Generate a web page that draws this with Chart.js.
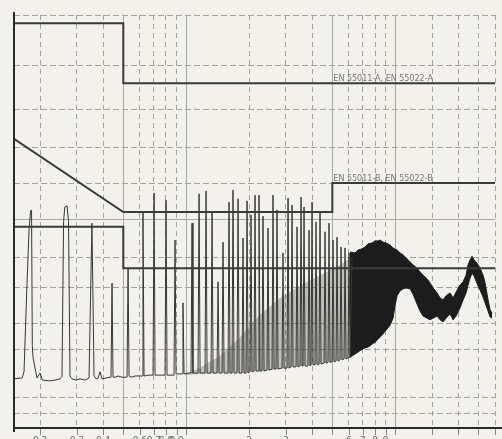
<!DOCTYPE html>
<html lang="de">
<head>
<meta charset="utf-8">
<title>Störspannung 0,15 – 30 MHz</title>
<script src="https://cdn.jsdelivr.net/npm/chart.js@4.4.1/dist/chart.umd.min.js"></script>
<style>
  html, body { margin: 0; padding: 0; background: #f3f1eb; }
  canvas { display: block; }
</style>
</head>
<body>
<canvas id="grafico" width="502" height="439"></canvas>
<script>
// Frequenz in MHz (log), Pegel in Einheiten des Papierrasters (0 = Unterkante, 100 = Oberkante)
const xGridDashed = [0.2, 0.3, 0.4, 0.6, 0.7, 0.8, 0.9, 2, 3, 4, 6, 7, 8, 9, 15, 20, 25, 30];
const xGridSolid = [0.5, 1, 5, 10];
const xTickLabels = ["0.2", "0.3", "0.4", "0.6", "0.7", "0.8", "0.9", "2", "3", "6", "7", "8", "9"];
const yGridDashed = [100, 87.7, 77.0, 67.8, 59.3, 41.4, 33.9, 25.4, 19.1, 7.3, 3.4];
const yGridSolid = [50.6];

const limitA = [[0.15, 98], [0.5, 98], [0.5, 83.5], [30, 83.5]];
const limitB = [[0.15, 70], [0.5, 52.3], [5, 52.3], [5, 59.3], [30, 59.3]];
const limitAvg = [[0.15, 48.7], [0.5, 48.7], [0.5, 38.7], [30, 38.7]];
const limitLabels = ["EN 55011-A, EN 55022-A", "EN 55011-B, EN 55022-B"];

// Messkurve bis 1 MHz
const traceLow = [
  [0.150, 11.9], [0.164, 12.1], [0.1675, 13.6], [0.1731, 35.0], [0.177, 47.9], [0.180, 52.5], [0.182, 52.8],
  [0.1835, 20.0], [0.185, 17.0], [0.1933, 12.1], [0.1998, 13.3], [0.205, 11.6], [0.223, 11.4], [0.2357, 11.6],
  [0.249, 11.9], [0.2545, 12.5], [0.259, 50.0], [0.2625, 53.5], [0.269, 53.8], [0.2735, 50.0], [0.278, 12.6],
  [0.2842, 11.9], [0.297, 11.6], [0.3104, 11.9], [0.328, 11.6], [0.3428, 12.1], [0.354, 49.6], [0.3622, 12.6],
  [0.3703, 11.9], [0.3785, 12.1], [0.3869, 13.6], [0.3955, 11.9], [0.4134, 12.1], [0.432, 12.3], [0.4368, 12.3],
  [0.4416, 35.1], [0.4465, 12.3], [0.4565, 12.3], [0.4718, 12.6], [0.4931, 12.3], [0.5153, 12.3], [0.521, 12.3],
  [0.527, 38.7], [0.5326, 12.6], [0.5444, 12.3], [0.569, 12.6], [0.5881, 12.6], [0.6146, 12.6], [0.621, 52.3],
  [0.6283, 12.6], [0.6638, 12.8], [0.6938, 12.8], [0.702, 56.9], [0.7092, 12.8], [0.7494, 12.8], [0.7919, 12.8],
  [0.8006, 55.2], [0.8095, 12.8], [0.8744, 12.8], [0.884, 45.5], [0.8939, 13.1], [0.955, 13.1], [0.965, 30.3],
  [0.9763, 13.1],
];

// Messkurve 1 – 6,2 MHz (Oberwellenkamm)
const traceMid = [
  [1.0203, 13.3], [1.0545, 13.3], [1.066, 49.6], [1.077, 13.3],
  [1.139, 13.3], [1.152, 56.7], [1.165, 13.3],
  [1.230, 13.3], [1.244, 57.4], [1.258, 13.3],
  [1.314, 13.3], [1.329, 52.3], [1.344, 13.3],
  [1.404, 13.3], [1.420, 35.4], [1.436, 13.3],
  [1.4835, 13.3], [1.500, 45.0], [1.517, 13.3],
  [1.585, 13.3], [1.602, 54.7], [1.620, 13.3],
  [1.656, 13.3], [1.674, 57.6], [1.693, 13.3],
  [1.750, 13.3], [1.770, 55.5], [1.790, 13.3],
  [1.849, 13.3], [1.869, 46.0], [1.890, 13.3],
  [1.933, 13.3], [1.954, 55.0], [1.976, 13.3],
  [2.019, 13.6], [2.042, 51.6], [2.064, 13.6],
  [2.110, 13.8], [2.134, 56.4], [2.157, 13.8],
  [2.205, 13.8], [2.229, 56.4], [2.254, 13.8],
  [2.304, 13.8], [2.330, 51.3], [2.356, 13.8],
  [2.435, 14.0], [2.462, 48.4], [2.489, 14.0],
  [2.574, 14.3], [2.601, 56.4], [2.631, 14.3],
  [2.689, 14.3], [2.718, 52.8], [2.749, 14.3],
  [2.873, 14.5], [2.904, 42.4], [2.937, 14.5],
  [3.036, 14.5], [3.070, 55.7], [3.104, 14.5],
  [3.172, 14.8], [3.208, 54.0], [3.243, 14.8],
  [3.352, 14.8], [3.389, 48.7], [3.426, 14.8],
  [3.503, 15.0], [3.542, 55.9], [3.581, 15.0],
  [3.621, 15.0], [3.661, 53.5], [3.702, 15.0],
  [3.825, 15.0], [3.868, 47.9], [3.911, 15.0],
  [3.954, 15.3], [3.998, 54.7], [4.042, 15.3],
  [4.132, 15.3], [4.178, 49.9], [4.224, 15.3],
  [4.318, 15.5], [4.366, 52.3], [4.414, 15.5],
  [4.563, 15.7], [4.614, 47.5], [4.665, 15.7],
  [4.768, 15.9], [4.821, 49.6], [4.875, 15.9],
  [4.983, 16.0], [5.038, 45.5], [5.094, 16.0],
  [5.208, 16.2], [5.265, 46.2], [5.323, 16.2],
  [5.442, 16.5], [5.503, 43.8], [5.563, 16.5],
  [5.687, 16.7], [5.750, 43.6], [5.814, 16.7],
  [5.943, 17.0], [6.009, 42.4], [6.075, 17.0],
  [6.211, 41.4],
];

// dichtes Band ab 6 MHz: obere und untere Hüllkurve
const humpMHz = [6.075, 6.422, 6.638, 6.862, 7.171, 7.412, 7.746, 8.006, 8.275, 8.460, 8.744, 9.038, 9.445, 9.763,
  9.980, 10.203, 10.546, 10.900, 11.267, 11.774, 12.167, 12.715, 13.141, 13.584, 14.196, 14.673, 15.17, 15.85,
  16.38, 16.93, 17.50, 18.29, 18.91, 19.54, 20.42, 21.11, 21.81, 22.30, 22.79, 23.30, 23.81, 24.35, 24.89, 25.45,
  26.31, 26.90, 27.80, 28.42, 29.06];
const humpTop = [42.6, 42.4, 43.1, 43.3, 43.8, 44.6, 44.8, 45.3, 45.3, 45.5, 45.0, 44.8, 44.3, 43.6,
  43.3, 43.1, 42.4, 41.9, 41.2, 40.2, 39.5, 38.7, 37.8, 37.0, 36.1, 35.1, 33.9, 32.7,
  31.5, 31.0, 32.0, 32.7, 31.5, 32.9, 34.6, 35.4, 37.0, 39.5, 40.7, 41.6, 40.7, 40.2, 39.5, 38.7,
  37.0, 35.1, 31.0, 28.6, 27.8];
const humpBottom = [17.2, 17.9, 18.4, 18.9, 19.4, 19.6, 20.3, 20.8, 21.5, 22.0, 22.8, 23.7, 24.9, 26.6,
  29.8, 32.0, 33.2, 33.7, 33.9, 33.7, 32.4, 30.0, 28.3, 27.1, 26.6, 26.2, 26.6, 27.1,
  26.2, 25.7, 26.6, 27.6, 26.2, 27.1, 29.1, 31.0, 32.7, 34.6, 36.3, 37.5, 36.8, 35.6, 34.4, 33.4,
  31.7, 30.3, 28.3, 26.9, 26.6];

// graue Schwärzung zwischen den Kammlinien
const shadeMHz = [0.987, 1.1645, 1.4513, 1.809, 2.254, 2.8095, 3.503, 4.366, 5.442, 6.211];
const shadeTop = [13.1, 14.6, 17.5, 22.0, 27.5, 31.5, 34.5, 37.0, 39.5, 41.4];
const shadeFloor = [12.8, 13.1, 13.3, 13.3, 13.8, 14.3, 15.0, 15.5, 16.5, 17.0];

const PAPIER = "#f3f1eb";
const TINTE = "#2f2f2f";
const GRENZE = "#3a3a3a";
const RASTER = "#a2a2a0";

const aPuntos = (pares) => pares.map(([x, y]) => ({ x, y }));
const unirPuntos = (xs, ys) => xs.map((x, i) => ({ x, y: ys[i] }));

function linea(datos, extra = {}) {
  return { data: datos, borderColor: TINTE, borderWidth: 1, pointRadius: 0, fill: false, ...extra };
}

const dekor = {
  id: "dekor",
  beforeDraw(chart) {
    const { ctx } = chart;
    ctx.save();
    ctx.fillStyle = PAPIER;
    ctx.fillRect(0, 0, chart.width, chart.height);
    ctx.restore();
  },
  beforeDatasetsDraw(chart) {
    const { ctx, chartArea: area, scales: { x, y } } = chart;
    ctx.save();
    ctx.strokeStyle = "#a8a8a6";
    ctx.lineWidth = 1;
    xGridSolid.forEach((v) => {
      const px = Math.round(x.getPixelForValue(v)) + 0.5;
      ctx.beginPath(); ctx.moveTo(px, area.top); ctx.lineTo(px, area.bottom); ctx.stroke();
    });
    yGridSolid.forEach((v) => {
      const py = Math.round(y.getPixelForValue(v)) + 0.5;
      ctx.beginPath(); ctx.moveTo(area.left, py); ctx.lineTo(area.right, py); ctx.stroke();
    });
    ctx.restore();
  },
  afterDatasetsDraw(chart) {
    const { ctx, chartArea: area, scales: { x, y } } = chart;
    ctx.save();
    // Achsen
    ctx.strokeStyle = "#2a2a2a";
    ctx.lineWidth = 2;
    ctx.beginPath(); ctx.moveTo(area.left, area.top - 3); ctx.lineTo(area.left, area.bottom + 4); ctx.stroke();
    ctx.beginPath(); ctx.moveTo(area.left - 1, area.bottom); ctx.lineTo(chart.width, area.bottom); ctx.stroke();
    // Teilstriche unter der Achse
    ctx.strokeStyle = "#888";
    ctx.lineWidth = 1;
    [...xGridDashed, ...xGridSolid].forEach((v) => {
      const px = Math.round(x.getPixelForValue(v)) + 0.5;
      ctx.beginPath(); ctx.moveTo(px, area.bottom + 1); ctx.lineTo(px, area.bottom + 7); ctx.stroke();
    });
    // Frequenzbeschriftung (vom Bildrand abgeschnitten)
    ctx.fillStyle = "#666";
    ctx.font = '9px "DejaVu Sans"';
    ctx.textAlign = "center";
    ctx.textBaseline = "top";
    xTickLabels.forEach((t) => ctx.fillText(t, x.getPixelForValue(Number(t)), area.bottom + 8));
    // Namen der Grenzwertlinien
    ctx.fillStyle = "#777";
    ctx.font = '8px "DejaVu Sans"';
    ctx.textAlign = "left";
    ctx.textBaseline = "alphabetic";
    const x5 = x.getPixelForValue(xGridSolid[2]) + 1;
    ctx.fillText(limitLabels[0], x5, y.getPixelForValue(limitA[3][1]) - 2);
    ctx.fillText(limitLabels[1], x5, y.getPixelForValue(limitB[4][1]) - 2);
    ctx.restore();
  },
};

new Chart(document.querySelector("#grafico"), {
  type: "line",
  data: {
    datasets: [
      linea(aPuntos(limitA), { borderColor: GRENZE, borderWidth: 2 }),
      linea(aPuntos(limitB), { borderColor: GRENZE, borderWidth: 2 }),
      linea(aPuntos(limitAvg), { borderColor: GRENZE, borderWidth: 2 }),
      linea(aPuntos([...traceLow, ...traceMid]), { borderColor: "#383838", borderWidth: 1 }),
      linea(unirPuntos(humpMHz, humpBottom), { borderColor: "#1c1c1c" }),
      linea(unirPuntos(humpMHz, humpTop), { borderColor: "#1c1c1c", fill: "-1", backgroundColor: "#1c1c1c" }),
      linea(unirPuntos(shadeMHz, shadeFloor), { borderWidth: 0, borderColor: "rgba(0,0,0,0)" }),
      linea(unirPuntos(shadeMHz, shadeTop), { borderWidth: 0, borderColor: "rgba(0,0,0,0)", fill: "-1", backgroundColor: "rgba(60,60,60,0.28)" }),
    ],
  },
  options: {
    responsive: false,
    animation: false,
    devicePixelRatio: 1,
    layout: { padding: { top: 15, right: 7, left: 0, bottom: 0 } },
    plugins: { legend: { display: false }, tooltip: { enabled: false } },
    elements: { line: { tension: 0 }, point: { radius: 0 } },
    scales: {
      x: {
        type: "logarithmic",
        min: 0.15,
        max: 30,
        ticks: { display: false },
        afterBuildTicks: (eje) => { eje.ticks = xGridDashed.map((v) => ({ value: v })); },
        afterFit: (eje) => { eje.height = 11; },
        grid: { color: RASTER, lineWidth: 1, drawTicks: false },
        border: { display: false, dash: [5, 4] },
      },
      y: {
        type: "linear",
        min: 0,
        max: 100,
        ticks: { display: false },
        afterBuildTicks: (eje) => { eje.ticks = yGridDashed.map((v) => ({ value: v })); },
        afterFit: (eje) => { eje.width = 14; },
        grid: { color: RASTER, lineWidth: 1, drawTicks: false },
        border: { display: false, dash: [6, 3] },
      },
    },
  },
  plugins: [dekor],
});
</script>
</body>
</html>
